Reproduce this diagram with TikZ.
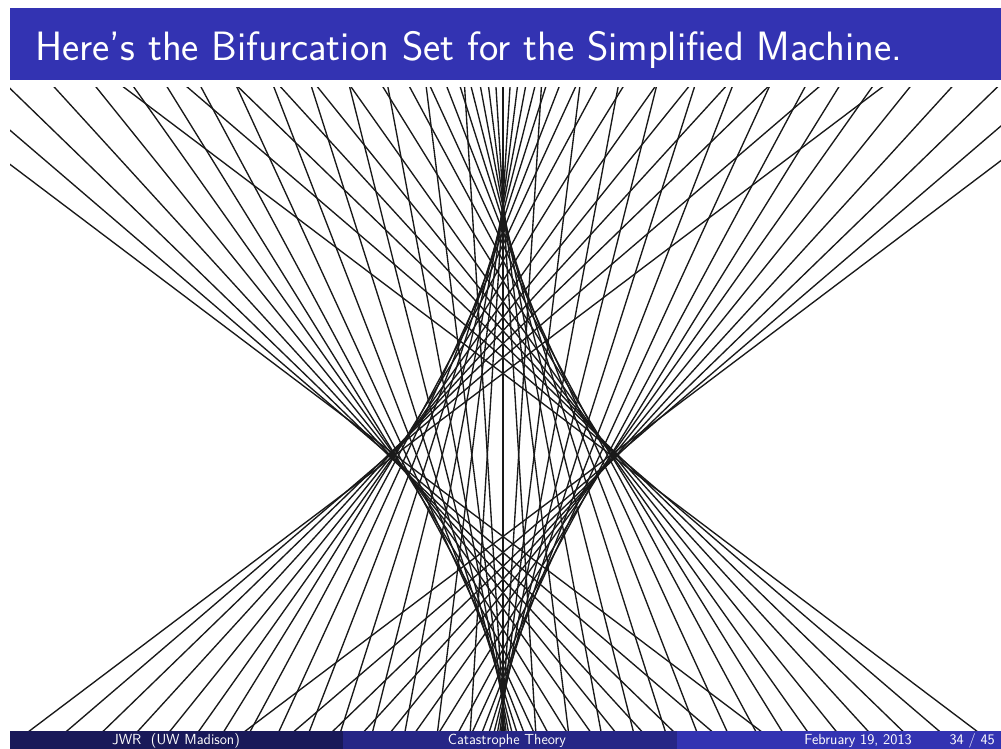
\documentclass[tikz,border=0pt]{standalone}
\usepackage{fontspec}
\usetikzlibrary{calc}
\definecolor{titlebar}{RGB}{51,51,178}
\definecolor{footA}{RGB}{25,25,89}
\definecolor{footB}{RGB}{38,38,134}
\definecolor{footC}{RGB}{51,51,178}

\begin{document}
\begin{tikzpicture}[x=1pt, y=1pt,
  every node/.style={font=\sffamily, text=white, inner sep=0pt},
  chord/.style={black!90, line width=1.35pt},
  foot/.style={font=\sffamily\fontsize{14.6}{16}\selectfont}
]
\useasboundingbox (0,0) rectangle (1001,749);
\fill[white] (0,0) rectangle (1001,749);

% frame title
\fill[titlebar] (10,669) rectangle (1001,741);
\node[anchor=base west, font=\sffamily\fontsize{41}{46}\selectfont] (title) at (35,688)
  {Here's the Bifurcation Set for the Simplified Machine.};

% tangent lines of the bifurcation set
\begin{scope}
\clip (10,18) rectangle (1001,661);
\begin{scope}[shift={(503,294)}]
\foreach \k in {-15,...,15}{
  \pgfmathsetmacro{\al}{\k*3.53}
  \pgfmathsetmacro{\tq}{min(abs(tan(\al))/0.635,1)^2}
  \pgfmathsetmacro{\px}{-sign(\al)*108*\tq*sqrt(\tq)}
  \pgfmathsetmacro{\py}{255*(1-\tq)}
  \pgfmathsetmacro{\sx}{90*(max(abs(\al)-32.42,0)/20.53)^2}
  \pgfmathsetmacro{\dx}{\sx*cos(90+sign(\al)*52.95)}
  \pgfmathsetmacro{\dy}{\sx*sin(90+sign(\al)*52.95)}
  \draw[chord] (\px+\dx,-\py+\dy) ++(90+\al:800) -- ++(270+\al:1600);
  \draw[chord] (\px+\dx,\py-\dy) ++(-90-\al:800) -- ++(90-\al:1600);
}
\end{scope}
\end{scope}

% footline
\fill[footA] (10,0) rectangle (343,18);
\fill[footB] (343,0) rectangle (677,18);
\fill[footC] (677,0) rectangle (1001,18);
\node[foot, anchor=base] (author) at (176,4) {JWR~~(UW Madison)};
\node[foot, anchor=base] (talk) at (507,4) {Catastrophe Theory};
\node[foot, anchor=base east] (date) at (912,4) {February 19, 2013};
\node[foot, anchor=base east] (page) at (995,4) {34 / 45};
\end{tikzpicture}
\end{document}
